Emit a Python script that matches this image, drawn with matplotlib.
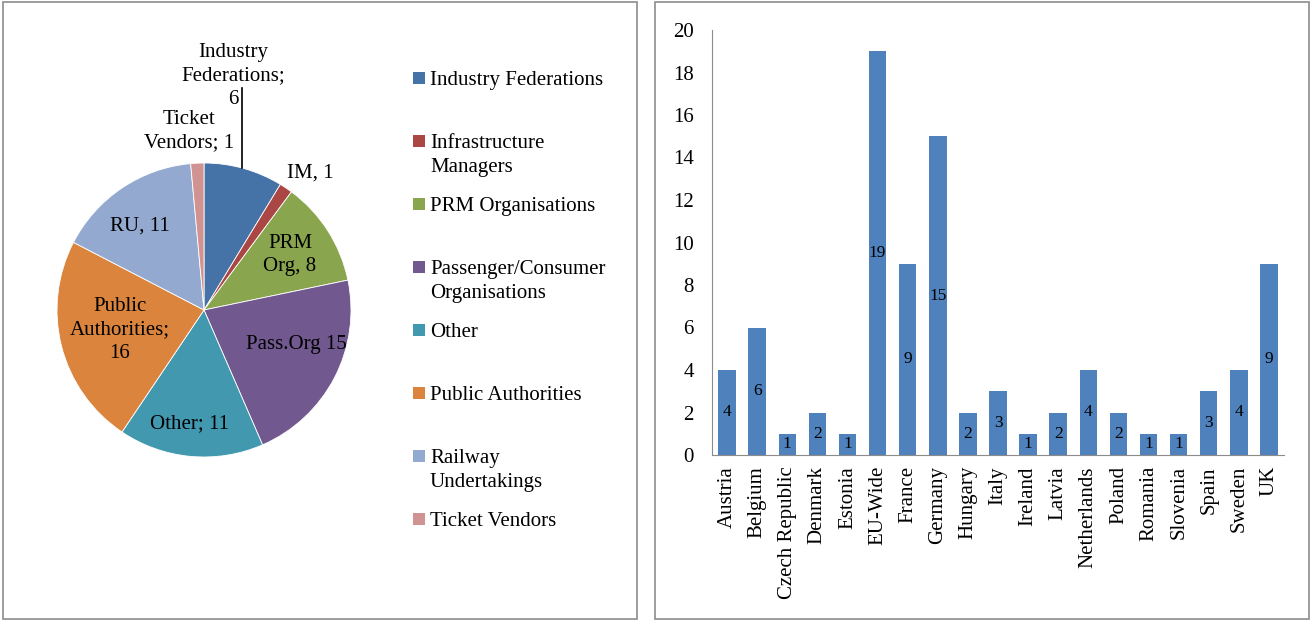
import matplotlib
matplotlib.use('Agg')
import matplotlib.pyplot as plt
from matplotlib.patches import Rectangle

plt.rcParams['font.family'] = ['Liberation Serif', 'DejaVu Serif']

# pie data
groups = ['Industry Federations', 'Infrastructure\nManagers', 'PRM Organisations',
          'Passenger/Consumer\nOrganisations', 'Other', 'Public Authorities',
          'Railway\nUndertakings', 'Ticket Vendors']
group_counts = [6, 1, 8, 15, 11, 16, 11, 1]
slice_labels = ['Industry\nFederations;\n6', 'IM, 1', 'PRM\nOrg, 8', 'Pass.Org 15',
                'Other; 11', 'Public\nAuthorities;\n16', 'RU, 11', 'Ticket\nVendors; 1']
colors = ['#4572A7', '#AA4643', '#89A54E', '#71588F', '#4198AF', '#DB843D',
          '#93A9CF', '#D19392']

# bar data
countries = ['Austria', 'Belgium', 'Czech Republic', 'Denmark', 'Estonia', 'EU-Wide',
             'France', 'Germany', 'Hungary', 'Italy', 'Ireland', 'Latvia',
             'Netherlands', 'Poland', 'Romania', 'Slovenia', 'Spain', 'Sweden', 'UK']
country_counts = [4, 6, 1, 2, 1, 19, 9, 15, 2, 3, 1, 2, 4, 2, 1, 1, 3, 4, 9]

fig = plt.figure(figsize=(13.11, 6.21), dpi=100)
W, H = 1311, 621
FS = 15
LS = 1.35

# panel frames
for x0, x1 in [(3, 637), (655, 1309)]:
    fig.patches.append(Rectangle((x0 / W, 2 / H), (x1 - x0) / W, 617 / H,
                                 transform=fig.transFigure, fill=False,
                                 edgecolor='#8c8c8c', linewidth=1.2))

# --- pie ---
ax = fig.add_axes([57 / W, (621 - 457) / H, 294 / W, 294 / H])
ax.pie(group_counts, colors=colors, startangle=90, counterclock=False,
       wedgeprops=dict(edgecolor='white', linewidth=0.6))
ax.set_xlim(-1, 1)
ax.set_ylim(-1, 1)
ax.set_aspect('equal')

# label placement (px in figure -> pie units)
label_px = [(233, 76), (310, 173), (290, 255), (296, 345), (190, 424),
            (120, 330), (140, 226), (189, 131)]
for lab, (px, py) in zip(slice_labels, label_px):
    ax.text((px - 204) / 147, (310 - py) / 147, lab, ha='center', va='center',
            fontsize=FS, linespacing=LS)
ax.plot([(242 - 204) / 147] * 2, [(310 - 88) / 147, 0.966], color='black',
        linewidth=1.2, clip_on=False)

# legend
for i, (name, c) in enumerate(zip(groups, colors)):
    y = 1 - (78 + 63 * i) / H
    fig.patches.append(Rectangle((413 / W, y - 6 / H), 12 / W, 12 / H,
                                 transform=fig.transFigure, facecolor=c,
                                 edgecolor='none'))
    fig.text(430 / W, y + 7 / H, name, ha='left', va='top', fontsize=FS,
             linespacing=LS)

# --- bars ---
bx = fig.add_axes([712 / W, 1 - 455 / H, (1284 - 712) / W, (455 - 30) / H])
xs = range(len(countries))
bars = bx.bar(xs, country_counts, width=0.58, color='#4F81BD')
bx.bar_label(bars, labels=[str(v) for v in country_counts], label_type='center',
             fontsize=12.5)
bx.set_xlim(-0.5, len(countries) - 0.5)
bx.set_ylim(0, 20)
bx.set_yticks(range(0, 21, 2))
bx.set_xticks(list(xs))
bx.set_xticklabels(countries, rotation=90)
bx.tick_params(axis='both', length=0, labelsize=FS)
bx.tick_params(axis='y', pad=13)
bx.tick_params(axis='x', pad=8)
for s in ['top', 'right']:
    bx.spines[s].set_visible(False)
for s in ['left', 'bottom']:
    bx.spines[s].set_color('#8c8c8c')

fig.savefig('out.png', dpi=100)
